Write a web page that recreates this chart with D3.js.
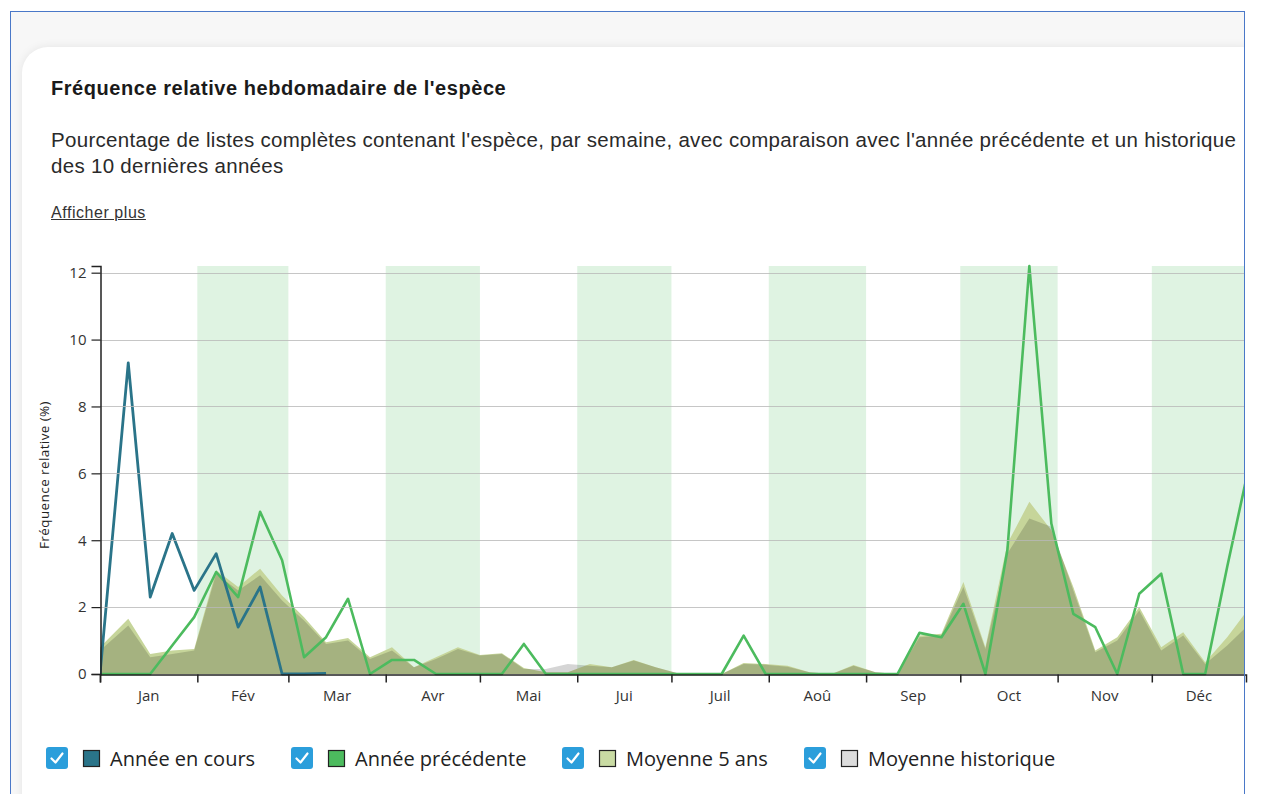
<!DOCTYPE html>
<html lang="fr">
<head>
<meta charset="utf-8">
<script src="https://cdn.jsdelivr.net/npm/d3@7"></script>
<style>
  html, body { margin: 0; padding: 0; width: 1271px; height: 794px; overflow: hidden; background: #ffffff; }
  body { position: relative; font-family: "Liberation Sans", Arial, sans-serif; }
  #frameBg { position: absolute; left: 10px; top: 11px; width: 1234px; height: 800px; background: #f7f7f7; }
  #card { position: absolute; left: 22px; top: 47px; width: 1246px; height: 780px; background: #fff; border-radius: 26px;
          box-shadow: 0 0 10px rgba(0,0,0,0.08); }
  #frame { position: absolute; left: 10px; top: 11px; width: 1233px; height: 800px; border: 1px solid #4a78c8; pointer-events: none; }
  #outside { position: absolute; left: 1245px; top: 0; width: 30px; height: 794px; background: #ffffff; }
  .title { position: absolute; left: 51px; top: 77px; font-size: 20px; letter-spacing: 0.55px; font-weight: bold; color: #1a1a1a; white-space: nowrap; }
  .sub { position: absolute; left: 51px; top: 127px; font-size: 20.5px; letter-spacing: 0.3px; line-height: 26px; color: #2a2a2a; white-space: nowrap; }
  .more { position: absolute; left: 51px; top: 204px; font-size: 16px; letter-spacing: 0.55px; color: #333; text-decoration: underline; }
  svg { position: absolute; left: 0; top: 0; }
</style>
</head>
<body>
<div id="frameBg"></div>
<div id="card"></div>
<div id="outside"></div>
<div class="title">Fréquence relative hebdomadaire de l'espèce</div>
<div class="sub">Pourcentage de listes complètes contenant l'espèce, par semaine, avec comparaison avec l'année précédente et un historique<br>des 10 dernières années</div>
<div class="more">Afficher plus</div>
<svg id="chart" width="1271" height="794"></svg>
<div id="frame"></div>
<script>
// ---------- DATA ----------
const monthLabels = ["Jan","Fév","Mar","Avr","Mai","Jui","Juil","Aoû","Sep","Oct","Nov","Déc"];
const shadedMonths = [1, 3, 5, 7, 9, 11];
const yTicks = [0, 2, 4, 6, 8, 10, 12];
// day of year of each weekly point
const weekDays = [0, 9, 16, 23, 30, 37, 44, 51, 58, 65, 72, 79, 86, 93, 100, 107, 114, 121, 128, 135,
  142, 149, 156, 163, 170, 177, 184, 191, 198, 205, 212, 219, 226, 233, 240, 247, 254, 261, 268, 275,
  282, 289, 296, 303, 310, 317, 324, 331, 338, 345, 352, 359, 365];
const currentYear = [0, 9.3, 2.3, 4.2, 2.5, 3.6, 1.4, 2.6, 0, 0, 0.02];
const previousYear = [0, 0, 0, 0.85, 1.7, 3.05, 2.3, 4.85, 3.4, 0.5, 1.1, 2.25, 0, 0.42, 0.42, 0, 0, 0, 0, 0.9,
  0, 0, 0, 0, 0, 0, 0, 0, 0, 1.15, 0, 0, 0, 0, 0, 0, 0, 1.23, 1.1, 2.1,
  0, 3.7, 12.2, 4.5, 1.8, 1.4, 0, 2.4, 3.0, 0, 0, 3.2, 5.8];
const fiveYearAvg = [0.8, 1.65, 0.6, 0.7, 0.75, 3.1, 2.6, 3.15, 2.35, 1.7, 0.95, 1.08, 0.5, 0.8, 0.2, 0.5, 0.8, 0.57, 0.62, 0.18,
  0.05, 0.05, 0.3, 0.2, 0.42, 0.2, 0.02, 0, 0, 0.33, 0.3, 0.25, 0.05, 0, 0.27, 0.05, 0, 1.15, 1.2, 2.75,
  0.8, 3.9, 5.15, 4.3, 2.6, 0.7, 1.1, 2.0, 0.8, 1.25, 0.35, 1.1, 1.85];
const historicAvg = [0.7, 1.45, 0.5, 0.6, 0.7, 3.0, 2.5, 2.95, 2.2, 1.6, 0.9, 1.0, 0.45, 0.7, 0.2, 0.45, 0.75, 0.55, 0.6, 0.15,
  0.15, 0.3, 0.25, 0.2, 0.4, 0.2, 0.02, 0, 0, 0.3, 0.28, 0.22, 0.05, 0, 0.25, 0.05, 0, 1.1, 1.15, 2.6,
  0.75, 3.6, 4.65, 4.4, 2.5, 0.65, 1.0, 1.9, 0.7, 1.15, 0.3, 0.85, 1.4];
const legendItems = ["Année en cours", "Année précédente", "Moyenne 5 ans", "Moyenne historique"];
const legendColors = ["#2a7489", "#4cbb5e", "#c9dba3", "#dcdcdc"];

// ---------- CHART ----------
const svg = d3.select("#chart");
const year = 2024;
const dayDate = d => new Date(year, 0, 1 + d);
const x = d3.scaleTime().domain([new Date(year, 0, 1), new Date(year, 11, 31)]).range([100, 1246]);
const y = d3.scaleLinear().domain([0, 12.2]).range([674, 266]);

const g = svg.append("g");
const defs = svg.append("defs");
defs.append("clipPath").attr("id", "plotclip").append("rect")
  .attr("x", 100).attr("y", 250).attr("width", 1145).attr("height", 430);

const monthStarts = d3.range(12).map(m => new Date(year, m, 1));
const monthEnd = m => m < 11 ? new Date(year, m + 1, 1) : new Date(year, 11, 31);

// shaded bands
g.selectAll("rect.band").data(shadedMonths).join("rect").attr("class", "band")
  .attr("x", m => x(monthStarts[m]))
  .attr("width", m => Math.min(x(monthEnd(m)), 1245) - x(monthStarts[m]))
  .attr("y", y(12.2)).attr("height", y(0) - y(12.2))
  .attr("fill", "#dff3e2");

const plot = g.append("g").attr("clip-path", "url(#plotclip)");

const pts = arr => arr.map((v, i) => ({ d: dayDate(weekDays[i]), v }));

const area = d3.area().x(p => x(p.d)).y0(y(0)).y1(p => y(p.v));
plot.append("path").datum(pts(fiveYearAvg)).attr("d", area).attr("fill", "#c6d59a");
plot.append("path").datum(pts(historicAvg)).attr("d", area).attr("fill", "#000").attr("fill-opacity", 0.165);

// gridlines
g.selectAll("line.grid").data(yTicks.filter(t => t > 0)).join("line").attr("class", "grid")
  .attr("x1", 100).attr("x2", 1245).attr("y1", t => Math.round(y(t)) + 0.5).attr("y2", t => Math.round(y(t)) + 0.5)
  .attr("stroke", "#b8b8b8").attr("stroke-width", 1).attr("stroke-opacity", 0.8);

const line = d3.line().defined(p => p.v != null).x(p => x(p.d)).y(p => y(p.v));
plot.append("path").datum(pts(previousYear)).attr("d", line)
  .attr("fill", "none").attr("stroke", "#4cbb5e").attr("stroke-width", 2.6).attr("stroke-linejoin", "round");
plot.append("path").datum(pts(currentYear)).attr("d", line)
  .attr("fill", "none").attr("stroke", "#2a7489").attr("stroke-width", 2.8).attr("stroke-linejoin", "round");

// axes
const yAxis = d3.axisLeft(y).tickValues(yTicks).tickSize(9).tickPadding(5);
const ya = g.append("g").attr("transform", "translate(100.5,0)").call(yAxis);
ya.select(".domain").attr("stroke", "#222").attr("stroke-width", 1.5);
ya.selectAll(".tick line").attr("stroke", "#222").attr("stroke-width", 1.2);
ya.selectAll(".tick text").attr("font-family", "'Open Sans', sans-serif").attr("font-size", 15).attr("fill", "#333");

const xAxis = d3.axisBottom(x).tickValues(monthStarts).tickSize(8).tickFormat("");
const xa = g.append("g").attr("transform", "translate(0,674.5)").call(xAxis);
xa.select(".domain").attr("stroke", "#222").attr("stroke-width", 1.5);
xa.selectAll(".tick line").attr("stroke", "#222").attr("stroke-width", 1.5);

g.selectAll("text.mlab").data(monthLabels).join("text").attr("class", "mlab")
  .attr("x", (t, i) => (x(monthStarts[i]) + x(monthEnd(i))) / 2)
  .attr("y", 701).attr("text-anchor", "middle")
  .attr("font-family", "'Open Sans', sans-serif").attr("font-size", 15).attr("fill", "#333")
  .text(t => t);

g.append("text").attr("transform", "translate(49,475) rotate(-90)").attr("text-anchor", "middle")
  .attr("font-family", "'Open Sans', sans-serif").attr("font-size", 13.5).attr("letter-spacing", 0.4).attr("fill", "#222")
  .text("Fréquence relative (%)");

// legend
const legendX = [46, 291, 562, 804];
const lg = g.selectAll("g.leg").data(legendItems).join("g").attr("class", "leg")
  .attr("transform", (t, i) => `translate(${legendX[i]},747)`);
lg.append("rect").attr("x", 0).attr("y", 0).attr("width", 22).attr("height", 22).attr("rx", 3)
  .attr("fill", "#2b9edb");
lg.append("path").attr("d", "M5.5 11.5 L9.5 15.5 L16.5 6.5").attr("fill", "none")
  .attr("stroke", "#fff").attr("stroke-width", 2.2).attr("stroke-linecap", "round").attr("stroke-linejoin", "round");
lg.append("rect").attr("x", 37.5).attr("y", 3.5).attr("width", 16).attr("height", 16)
  .attr("fill", (t, i) => legendColors[i]).attr("stroke", "#222").attr("stroke-width", 1.2);
lg.append("text").attr("x", 64).attr("y", 19)
  .attr("font-family", "'Open Sans', sans-serif").attr("font-size", 20).attr("fill", "#222")
  .text(t => t);
</script>
</body>
</html>
